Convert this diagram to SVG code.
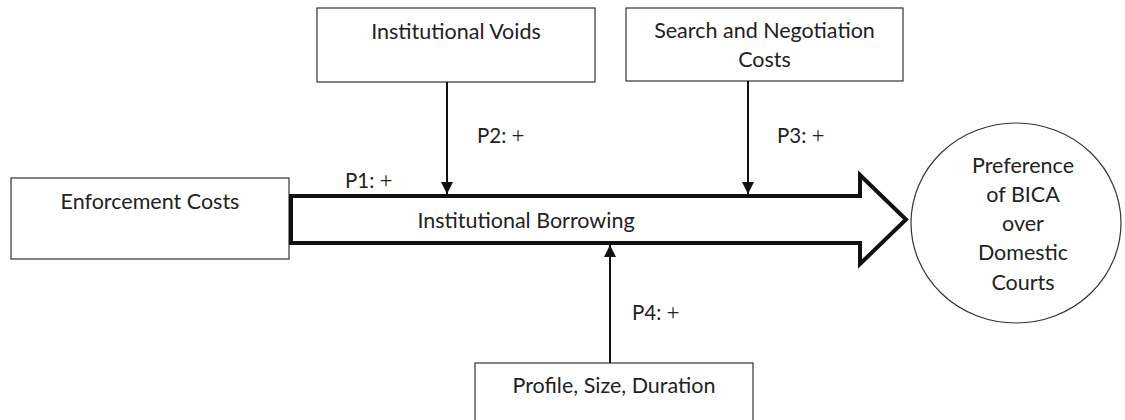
<svg xmlns="http://www.w3.org/2000/svg" width="1125" height="420" viewBox="0 0 1125 420">
<defs>
<style>
.box{fill:#fff;stroke:#333;stroke-width:1.2}
.t{font-family:Lato,"Liberation Sans",sans-serif;font-size:21.5px;fill:#222;text-anchor:middle}
.lbl{font-family:Lato,"Liberation Sans",sans-serif;font-size:20.5px;fill:#222}
.plus{font-family:"Liberation Serif",serif;font-size:23px}
.conn{stroke:#111;stroke-width:2;fill:none}
.big{fill:#fff;stroke:#111;stroke-width:4;stroke-linejoin:miter}
</style>
<marker id="ah" viewBox="0 0 12 12" refX="12" refY="6" markerWidth="12" markerHeight="12" markerUnits="userSpaceOnUse" orient="auto">
<path d="M0,0 L12,6 L0,12 Z" fill="#111"/>
</marker>
</defs>
<rect width="1125" height="420" fill="#fff"/>

<g id="enforcement">
<rect class="box" x="11" y="178" width="278" height="81"/>
<text class="t" x="150" y="209">Enforcement Costs</text>
</g>

<g id="voids">
<rect class="box" x="317" y="8" width="278" height="74"/>
<text class="t" x="456" y="39">Institutional Voids</text>
</g>

<g id="search">
<rect class="box" x="626" y="8" width="277" height="73"/>
<text class="t" x="764.5" y="38">Search and Negotiation</text>
<text class="t" x="764.5" y="67">Costs</text>
</g>

<g id="profile">
<rect class="box" x="475" y="363" width="278" height="70"/>
<text class="t" x="614" y="393">Profile, Size, Duration</text>
</g>

<g id="borrowing">
<polygon class="big" points="291,196 860,196 860,175 906,219.5 860,264 860,243 291,243"/>
<text class="t" x="526" y="228">Institutional Borrowing</text>
</g>

<g id="preference">
<ellipse class="box" cx="1016" cy="223" rx="105" ry="100" stroke="#111"/>
<text class="t" x="1023" y="173">Preference</text>
<text class="t" x="1023" y="202">of BICA</text>
<text class="t" x="1023" y="231">over</text>
<text class="t" x="1023" y="260">Domestic</text>
<text class="t" x="1023" y="290">Courts</text>
</g>

<g id="connectors">
<line class="conn" x1="447" y1="82" x2="447" y2="194" marker-end="url(#ah)"/>
<line class="conn" x1="748" y1="81" x2="748" y2="194" marker-end="url(#ah)"/>
<line class="conn" x1="610" y1="363" x2="610" y2="245" marker-end="url(#ah)"/>
<text class="lbl" x="345" y="188">P1: <tspan class="plus">+</tspan></text>
<text class="lbl" x="477" y="143">P2: <tspan class="plus">+</tspan></text>
<text class="lbl" x="777" y="143">P3: <tspan class="plus">+</tspan></text>
<text class="lbl" x="632" y="320">P4: <tspan class="plus">+</tspan></text>
</g>
</svg>
